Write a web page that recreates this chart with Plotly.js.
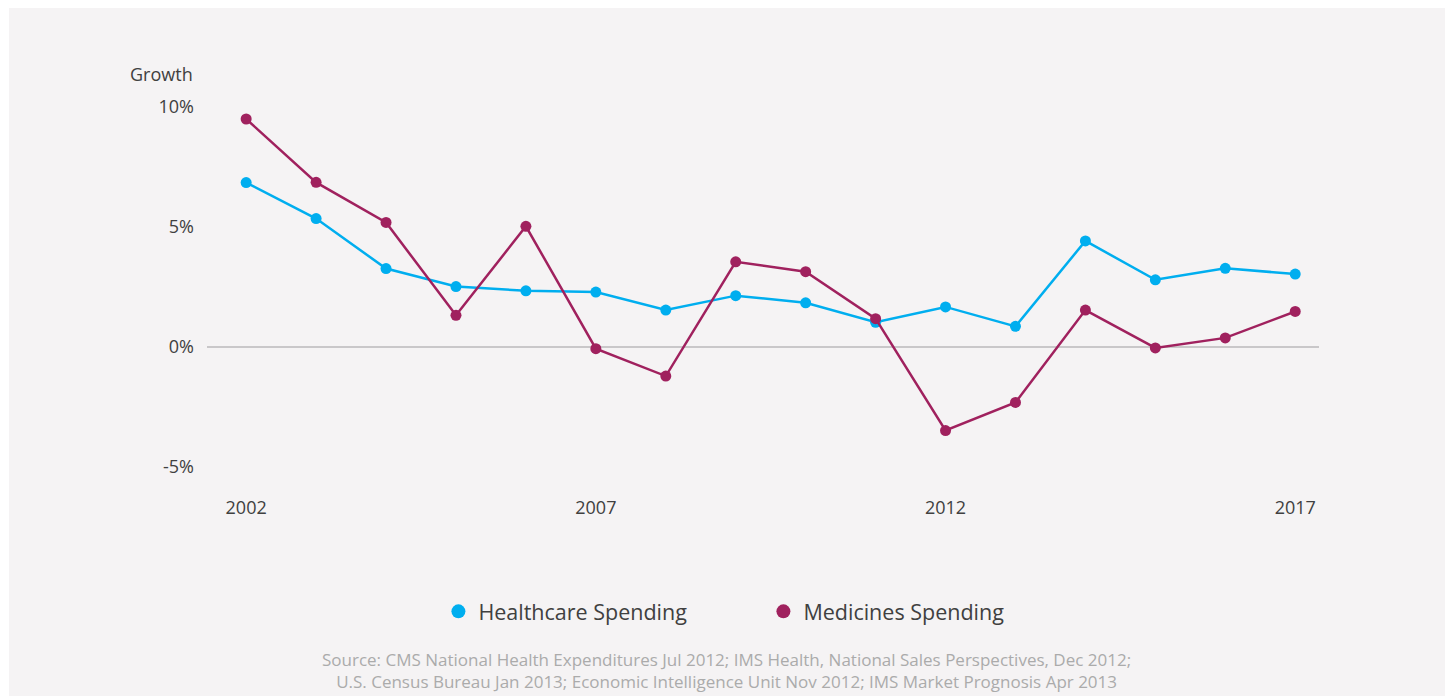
<!DOCTYPE html>
<html>
<head>
<meta charset="utf-8">
<script src="https://cdn.plot.ly/plotly-3.0.1.min.js"></script>
<style>
  html, body { margin: 0; padding: 0; background: #ffffff; }
  #chart { position: absolute; left: 9px; top: 8px; width: 1436px; height: 688px; }
</style>
</head>
<body>
<div id="chart"></div>
<script>
const years = [2002, 2003, 2004, 2005, 2006, 2007, 2008, 2009, 2010, 2011, 2012, 2013, 2014, 2015, 2016, 2017];
const healthcareSpending = [6.85, 5.35, 3.27, 2.52, 2.34, 2.29, 1.54, 2.14, 1.84, 1.03, 1.67, 0.86, 4.42, 2.80, 3.28, 3.04];
const medicinesSpending = [9.5, 6.86, 5.19, 1.32, 5.03, -0.07, -1.21, 3.55, 3.14, 1.18, -3.48, -2.31, 1.54, -0.04, 0.38, 1.48];
const xTickYears = [2002, 2007, 2012, 2017];
const yTickValues = [-5, 0, 5, 10];
const yTickLabels = ['-5%', '0%', '5%', '10%'];
const seriesNames = ['Healthcare Spending', 'Medicines Spending'];
const sourceText = 'Source: CMS National Health Expenditures Jul 2012; IMS Health, National Sales Perspectives, Dec 2012;<br>U.S. Census Bureau Jan 2013; Economic Intelligence Unit Nov 2012; IMS Market Prognosis Apr 2013';

const cyan = '#00aeef';
const maroon = '#a0215e';
const font = 'Open Sans, sans-serif';

const traces = [
  { x: years, y: healthcareSpending, mode: 'lines+markers', name: seriesNames[0], showlegend: false,
    line: { color: cyan, width: 2.5 }, marker: { color: cyan, size: 11 }, cliponaxis: false },
  { x: years, y: medicinesSpending, mode: 'lines+markers', name: seriesNames[1], showlegend: false,
    line: { color: maroon, width: 2.5 }, marker: { color: maroon, size: 11 }, cliponaxis: false },
  { x: [null], y: [null], mode: 'markers', name: seriesNames[0], marker: { color: cyan, size: 14 } },
  { x: [null], y: [null], mode: 'markers', name: seriesNames[1], marker: { color: maroon, size: 14 } }
];

const layout = {
  width: 1436, height: 688,
  paper_bgcolor: '#f5f3f4', plot_bgcolor: 'rgba(0,0,0,0)',
  margin: { l: 198, r: 126, t: 75, b: 205 },
  font: { family: font, color: '#404040', size: 18 },
  showlegend: true,
  xaxis: {
    range: [2001.44, 2017.34], tickvals: xTickYears, ticktext: xTickYears.map(String),
    showgrid: false, zeroline: false, showline: false, ticks: '',
    tickfont: { family: font, size: 18, color: '#404040' }, ticklabelstandoff: 4
  },
  yaxis: {
    range: [-6, 11], tickvals: yTickValues, ticktext: yTickLabels,
    showgrid: false, zeroline: true, zerolinecolor: '#c9c7c9', zerolinewidth: 2, showline: false, ticks: '',
    tickfont: { family: font, size: 18, color: '#404040' }, ticklabelstandoff: 12
  },
  legend: {
    orientation: 'h', x: 0.2081, xanchor: 'left', y: -0.295, yanchor: 'middle',
    font: { family: font, size: 21.5, color: '#404040' }, bgcolor: 'rgba(0,0,0,0)',
    entrywidth: 280, entrywidthmode: 'pixels'
  },
  annotations: [
    { text: 'Growth', xref: 'paper', yref: 'paper', x: 0, y: 1.022, xanchor: 'right', yanchor: 'middle',
      xshift: -12, showarrow: false, font: { family: font, size: 18, color: '#404040' } },
    { text: sourceText, xref: 'paper', yref: 'paper', x: 0.467, y: -0.441, xanchor: 'center', yanchor: 'middle',
      showarrow: false, align: 'center', font: { family: font, size: 17, color: '#ababab' } }
  ]
};

Plotly.newPlot('chart', traces, layout, { displayModeBar: false, staticPlot: true });
</script>
</body>
</html>
